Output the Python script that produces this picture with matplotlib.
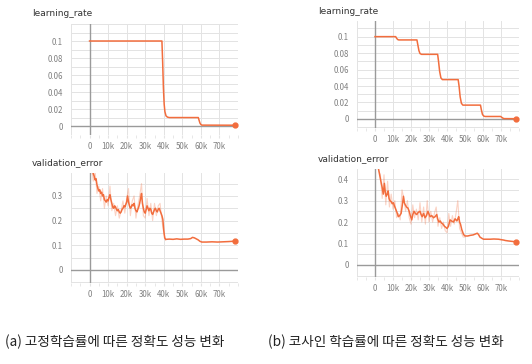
# TensorBoard 스타일 학습률 / 검증 오차 비교 그림
import numpy as np
import matplotlib.pyplot as plt

plt.rcParams['font.family'] = ['Noto Sans CJK KR', 'DejaVu Sans']

# 색상
orange = '#f26d3d'
grid_c = '#e3e3e3'
axis_c = '#9a9a9a'
tick_c = '#808080'

# ---- 데이터 (x 단위: 천 step) ----
# (a) 고정 학습률
lr_fixed_x = [0, 39.0, 39.4, 39.8, 40.2, 40.6, 41.2, 42.0, 43.0, 58.6, 59.0, 59.5, 60.0, 60.6, 78.5]
lr_fixed_y = [0.1, 0.1, 0.075, 0.045, 0.026, 0.017, 0.012, 0.0105, 0.01, 0.01, 0.007, 0.0035, 0.0018, 0.0011, 0.001]

# (b) 코사인 학습률
lr_cos_x = [0, 11.5, 12.0, 12.6, 13.2, 23.3, 23.8, 24.4, 25.0, 25.8, 34.8, 35.3, 35.9, 36.6, 37.4,
            46.2, 46.7, 47.3, 48.0, 48.8, 58.6, 59.1, 59.7, 60.4, 61.2, 69.8, 70.4, 71.0, 71.8, 78.5]
lr_cos_y = [0.1, 0.1, 0.098, 0.0965, 0.096, 0.096, 0.09, 0.083, 0.0795, 0.0785, 0.0785, 0.07, 0.058, 0.05, 0.0478,
            0.0478, 0.04, 0.027, 0.019, 0.0168, 0.0168, 0.011, 0.0055, 0.0035, 0.003, 0.003, 0.002, 0.001, 0.0004, 0.0003]

# (a) 검증 오차 (smoothed)
val_fixed_x = [0, 0.5, 1, 1.5, 2, 2.5, 3, 3.5, 4, 4.5, 5, 5.5, 6, 6.5, 7, 7.5, 8, 8.5, 9, 9.5,
               10, 10.5, 11, 11.5, 12, 12.5, 13, 13.5, 14, 14.5, 15, 15.5, 16, 16.5, 17, 17.5, 18, 18.5, 19, 19.5,
               20, 20.5, 21, 21.5, 22, 22.5, 23, 23.5, 24, 24.5, 25, 25.5, 26, 26.5, 27, 27.5, 28, 28.5, 29, 29.5,
               30, 30.5, 31, 31.5, 32, 32.5, 33, 33.5, 34, 34.5, 35, 35.5, 36, 36.5, 37, 37.5, 38, 38.5, 39, 39.5,
               40, 40.5, 41, 43, 45, 47, 49, 51, 53, 54.5, 55.5, 56.5, 57.5, 58.5, 59.5, 60.5,
               63, 66, 69, 72, 75, 77, 78.5]
val_fixed_y = [0.48, 0.46, 0.44, 0.41, 0.39, 0.38, 0.365, 0.37, 0.345, 0.33, 0.32, 0.325, 0.31, 0.315, 0.30, 0.305, 0.285, 0.28, 0.275, 0.285,
               0.28, 0.295, 0.305, 0.285, 0.27, 0.255, 0.25, 0.26, 0.255, 0.245, 0.24, 0.245, 0.235, 0.23, 0.235, 0.245, 0.25, 0.26, 0.255, 0.265,
               0.275, 0.30, 0.275, 0.26, 0.25, 0.255, 0.265, 0.26, 0.27, 0.25, 0.24, 0.235, 0.245, 0.255, 0.27, 0.29, 0.31, 0.27, 0.25, 0.235,
               0.23, 0.245, 0.26, 0.25, 0.24, 0.25, 0.245, 0.23, 0.225, 0.235, 0.245, 0.25, 0.24, 0.235, 0.245, 0.25, 0.24, 0.23, 0.22, 0.205,
               0.16, 0.13, 0.124, 0.125, 0.124, 0.126, 0.124, 0.125, 0.125, 0.127, 0.132, 0.13, 0.126, 0.122, 0.116, 0.113,
               0.113, 0.114, 0.113, 0.114, 0.115, 0.116, 0.117]
# (a) 검증 오차 (raw)
raw_fixed_x = [0, 1, 2, 3, 4, 5, 6, 7, 8, 9, 10, 11, 12, 13, 14, 15, 16, 17, 18, 19, 20,
               21, 22, 23, 24, 25, 26, 27, 28, 29, 30, 31, 32, 33, 34, 35, 36, 37, 38, 39, 40, 41]
raw_fixed_y = [0.5, 0.42, 0.36, 0.40, 0.31, 0.34, 0.28, 0.33, 0.25, 0.30, 0.26, 0.34, 0.24, 0.27, 0.22, 0.26, 0.21, 0.24, 0.28, 0.23, 0.29,
               0.33, 0.22, 0.28, 0.30, 0.21, 0.26, 0.30, 0.35, 0.22, 0.21, 0.29, 0.22, 0.27, 0.20, 0.27, 0.22, 0.26, 0.27, 0.20, 0.15, 0.12]

# (b) 검증 오차 (smoothed)
val_cos_x = [0, 1, 1.9, 2.8, 3.5, 4.0, 4.6, 5.2, 5.7, 6.2, 6.8, 7.3, 7.8, 8.3, 9.0, 9.6, 10.2, 10.8, 11.5, 12.2,
             13.0, 13.7, 14.5, 15.2, 15.8, 16.3, 16.8, 17.5, 18.3, 19.0, 19.6, 20.4, 21.0, 21.7, 22.4, 23.2, 24.0, 25.0, 25.6, 26.2,
             27.0, 27.8, 28.6, 29.4, 30.1, 30.6, 31.5, 32.5, 33.4, 34.3, 34.8, 35.5, 36.2, 37.0, 37.8, 38.6, 39.4, 40.0, 40.8, 41.7,
             42.5, 43.6, 44.5, 45.5, 46.0, 46.5, 47.0, 47.5, 48.2, 49.2, 50.0, 51.5, 53.0, 54.5, 56.0, 56.8, 57.5, 58.3, 59.4, 60.3,
             62, 64, 66, 68.6, 70, 71.5, 72.4, 74, 76, 77.2, 78.3]
val_cos_y = [0.56, 0.5, 0.45, 0.41, 0.38, 0.36, 0.33, 0.38, 0.34, 0.32, 0.33, 0.345, 0.31, 0.30, 0.295, 0.285, 0.29, 0.275, 0.26, 0.245,
             0.225, 0.23, 0.24, 0.28, 0.32, 0.29, 0.28, 0.27, 0.265, 0.25, 0.23, 0.21, 0.235, 0.25, 0.24, 0.235, 0.245, 0.25, 0.235, 0.225,
             0.24, 0.22, 0.23, 0.25, 0.235, 0.225, 0.23, 0.22, 0.225, 0.235, 0.215, 0.2, 0.205, 0.195, 0.19, 0.18, 0.175, 0.17, 0.18, 0.21,
             0.205, 0.2, 0.215, 0.205, 0.215, 0.225, 0.2, 0.19, 0.165, 0.142, 0.135, 0.135, 0.138, 0.14, 0.145, 0.148, 0.142, 0.13, 0.124, 0.12,
             0.12, 0.12, 0.121, 0.12, 0.118, 0.116, 0.114, 0.112, 0.11, 0.109, 0.109]
# (b) 검증 오차 (raw)
raw_cos_x = [0, 1, 2, 3, 4, 5, 6, 7, 8, 9, 10, 11, 12, 13, 14, 15, 16, 17, 18, 19, 20, 21, 22, 23, 24, 25,
             26, 27, 28, 29, 30, 31, 32, 33, 34, 35, 36, 37, 38, 39, 40, 41, 42, 43, 44, 45, 46, 47, 48, 49, 50]
raw_cos_y = [0.6, 0.5, 0.44, 0.42, 0.31, 0.42, 0.28, 0.39, 0.27, 0.33, 0.26, 0.3, 0.22, 0.24, 0.21, 0.35, 0.31, 0.25, 0.3, 0.22, 0.19,
             0.28, 0.22, 0.26, 0.21, 0.29, 0.2, 0.27, 0.19, 0.3, 0.2, 0.25, 0.2, 0.24, 0.27, 0.18, 0.22, 0.17, 0.2, 0.16, 0.15,
             0.24, 0.18, 0.23, 0.19, 0.24, 0.3, 0.17, 0.15, 0.13, 0.13]

x_ticks = [0, 10, 20, 30, 40, 50, 60, 70]
x_labels = ['0', '10k', '20k', '30k', '40k', '50k', '60k', '70k']
lr_ticks = [0, 0.02, 0.04, 0.06, 0.08, 0.1]
lr_labels = ['0', '0.02', '0.04', '0.06', '0.08', '0.1']
val_ticks = [0, 0.1, 0.2, 0.3, 0.4]
val_labels = ['0', '0.1', '0.2', '0.3', '0.4']

fig = plt.figure(figsize=(5.32, 3.64), dpi=100)


def make_axes(rect, ylim, ystep, yticks, ylabels, title):
    W, H = 532, 364
    left, top, right, bottom = rect
    ax = fig.add_axes([left / W, 1 - bottom / H, (right - left) / W, (bottom - top) / H])
    ax.set_xlim(-10, 80)
    ax.set_ylim(*ylim)
    # 격자
    for gx in range(-10, 81, 10):
        ax.axvline(gx, color=grid_c, lw=0.7, zorder=0)
    gy = np.arange(np.ceil(ylim[0] / ystep) * ystep, ylim[1] + 1e-9, ystep)
    for v in gy:
        ax.axhline(v, color=grid_c, lw=0.7, zorder=0)
    ax.axvline(0, color=axis_c, lw=1.0, zorder=1)
    ax.axhline(0, color=axis_c, lw=1.0, zorder=1)
    for s in ax.spines.values():
        s.set_visible(False)
    ax.set_xticks(x_ticks)
    ax.set_xticklabels(x_labels)
    ax.set_yticks([t for t in yticks if t <= ylim[1]])
    ax.set_yticklabels([l for t, l in zip(yticks, ylabels) if t <= ylim[1]])
    ax.tick_params(axis='y', length=0, pad=6, labelsize=5.7, labelcolor=tick_c)
    ax.tick_params(axis='x', length=2, color=grid_c, pad=3, labelsize=5.7, labelcolor=tick_c)
    ax.set_xticks(range(-10, 81, 5), minor=True)
    ax.tick_params(axis='x', which='minor', length=2, color=grid_c)
    fig.text((left - 39) / W, 1 - (top - 10) / H, title, fontsize=6.5, color='#333333',
             family='DejaVu Sans', va='center', ha='left')
    return ax


ax1 = make_axes((71, 24, 238, 135), (-0.0105, 0.12), 0.01, lr_ticks, lr_labels, 'learning_rate')
ax1.plot(lr_fixed_x, lr_fixed_y, color=orange, lw=1.1, zorder=3)
ax1.plot(lr_fixed_x[-1], lr_fixed_y[-1], 'o', color=orange, ms=3.5, zorder=4)

ax2 = make_axes((357, 21, 519, 128), (-0.011, 0.119), 0.01, lr_ticks, lr_labels, 'learning_rate')
ax2.plot(lr_cos_x, lr_cos_y, color=orange, lw=1.1, zorder=3)
ax2.plot(lr_cos_x[-1], lr_cos_y[-1], 'o', color=orange, ms=3.5, zorder=4)

ax3 = make_axes((71, 173, 238, 283), (-0.053, 0.393), 0.05, val_ticks, val_labels, 'validation_error')
ax3.plot(raw_fixed_x, raw_fixed_y, color=orange, lw=0.8, alpha=0.3, zorder=2)
ax3.plot(val_fixed_x, val_fixed_y, color=orange, lw=1.1, zorder=3)
ax3.plot(val_fixed_x[-1], val_fixed_y[-1], 'o', color=orange, ms=3.5, zorder=4)

ax4 = make_axes((357, 169, 519, 277), (-0.056, 0.447), 0.05, val_ticks, val_labels, 'validation_error')
ax4.plot(raw_cos_x, raw_cos_y, color=orange, lw=0.8, alpha=0.3, zorder=2)
ax4.plot(val_cos_x, val_cos_y, color=orange, lw=1.1, zorder=3)
ax4.plot(val_cos_x[-1], val_cos_y[-1], 'o', color=orange, ms=3.5, zorder=4)

# 캡션
fig.text(5 / 532, 1 - 342 / 364, '(a) 고정학습률에 따른 정확도 성능 변화', fontsize=9.8,
         va='center', ha='left', color='#222222')
fig.text(268 / 532, 1 - 342 / 364, '(b) 코사인 학습률에 따른 정확도 성능 변화', fontsize=9.8,
         va='center', ha='left', color='#222222')

fig.savefig('out.png', dpi=100)
